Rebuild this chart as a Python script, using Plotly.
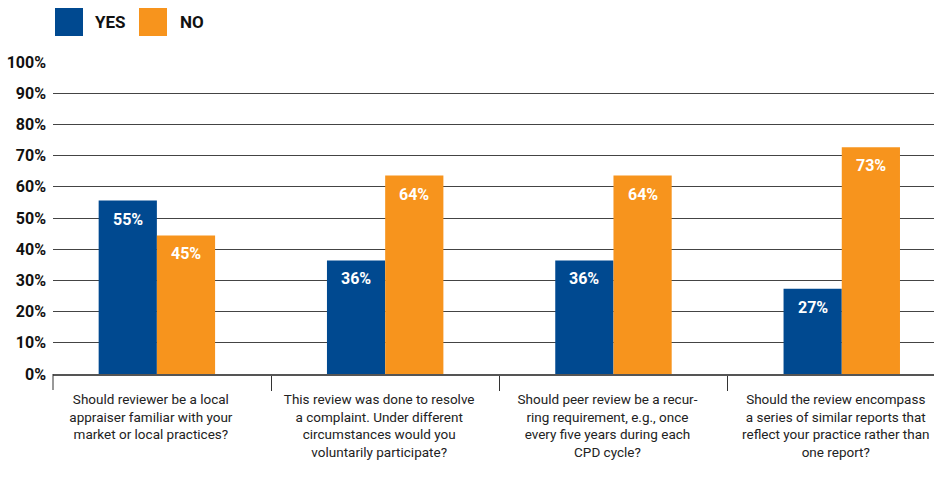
import plotly.graph_objects as go

categories = [
    "Should reviewer be a local<br>appraiser familiar with your<br>market or local practices?",
    "This review was done to resolve<br>a complaint. Under different<br>circumstances would you<br>voluntarily participate?",
    "Should peer review be a recur-<br>ring requirement, e.g., once<br>every five years during each<br>CPD cycle?",
    "Should the review encompass<br>a series of similar reports that<br>reflect your practice rather than<br>one report?",
]
series_names = ["YES", "NO"]
yes_values = [55.6, 36.4, 36.4, 27.3]
no_values = [44.4, 63.6, 63.6, 72.7]
yes_labels = ["55%", "36%", "36%", "27%"]
no_labels = ["45%", "64%", "64%", "73%"]
y_ticks = [0, 10, 20, 30, 40, 50, 60, 70, 80, 90, 100]
y_tick_labels = ["0%", "10%", "20%", "30%", "40%", "50%", "60%", "70%", "80%", "90%", "100%"]

BLUE = "#004990"
ORANGE = "#F7941D"
FONT = "Roboto, Liberation Sans, sans-serif"

W, H = 934, 478
ML, MT, MB = 53, 62, 478 - 374
PW, PH = W - ML, H - MT - MB
X_RANGE = [-0.455, 3.404]
BARGAP = 0.49
cat_px = PW / (X_RANGE[1] - X_RANGE[0])
half_bar_px = cat_px * (1 - BARGAP) / 4

fig = go.Figure()
for name, vals, color in [
    (series_names[0], yes_values, BLUE),
    (series_names[1], no_values, ORANGE),
]:
    fig.add_trace(go.Bar(
        x=categories, y=vals, name=name, marker=dict(color=color, line=dict(width=0)),
        showlegend=False, hoverinfo="x+y+name",
    ))

# value labels inside the top of each bar
for labels, vals, sign in [(yes_labels, yes_values, -1), (no_labels, no_values, 1)]:
    for cat, v, lab in zip(categories, vals, labels):
        fig.add_annotation(x=cat, y=v, xref="x", yref="y", text=lab, showarrow=False,
                           xanchor="center", yanchor="top", xshift=sign * half_bar_px,
                           yshift=-7,
                           font=dict(color="white", size=16, family=FONT, weight="bold"))

fig.update_layout(
    width=W, height=H,
    margin=dict(l=ML, r=0, t=MT, b=MB, autoexpand=False),
    paper_bgcolor="white", plot_bgcolor="white",
    barmode="group", bargap=BARGAP, bargroupgap=0,
    font=dict(family=FONT, color="#222"),
)
fig.update_xaxes(
    type="category", range=X_RANGE,
    tickson="boundaries", ticks="outside", ticklen=15, tickwidth=1, tickcolor="#333",
    showline=True, linecolor="#555", linewidth=1.5,
    tickfont=dict(size=13.5, family=FONT, color="#222"),
    tickangle=0, automargin=False, ticklabelstandoff=12, ticklabelshift=-6,
    showgrid=False,
)
fig.update_yaxes(
    range=[0, 100], tickvals=y_ticks, ticktext=y_tick_labels,
    showgrid=True, gridcolor="#444", gridwidth=1.1,
    zeroline=False, showline=False, ticks="",
    tickfont=dict(size=16, family=FONT, color="#111", weight="bold"),
    ticklabelstandoff=6, automargin=False,
)

# left edge tick below the axis
fig.add_shape(type="line", xref="paper", yref="paper", x0=0, x1=0, y0=0, y1=-16 / PH,
              line=dict(color="#333", width=1))

# legend drawn as swatches + names (page pixel positions converted to paper fractions)
def px_x(x):
    return (x - ML) / PW

def px_y(y):
    return 1 + (MT - y) / PH

sw = [(55, BLUE, series_names[0], 93), (139, ORANGE, series_names[1], 178)]
for x0, color, name, tx in sw:
    fig.add_shape(type="rect", xref="paper", yref="paper",
                  x0=px_x(x0), x1=px_x(x0 + 28), y0=px_y(36), y1=px_y(8),
                  fillcolor=color, line=dict(width=0))
    fig.add_annotation(xref="paper", yref="paper", x=px_x(tx), y=px_y(22),
                       text=name, showarrow=False, xanchor="left", yanchor="middle",
                       font=dict(size=17, family=FONT, color="#111", weight="bold"))

fig.write_html("out.html", config={"displayModeBar": False},
               post_script="document.body.style.margin='0';")
